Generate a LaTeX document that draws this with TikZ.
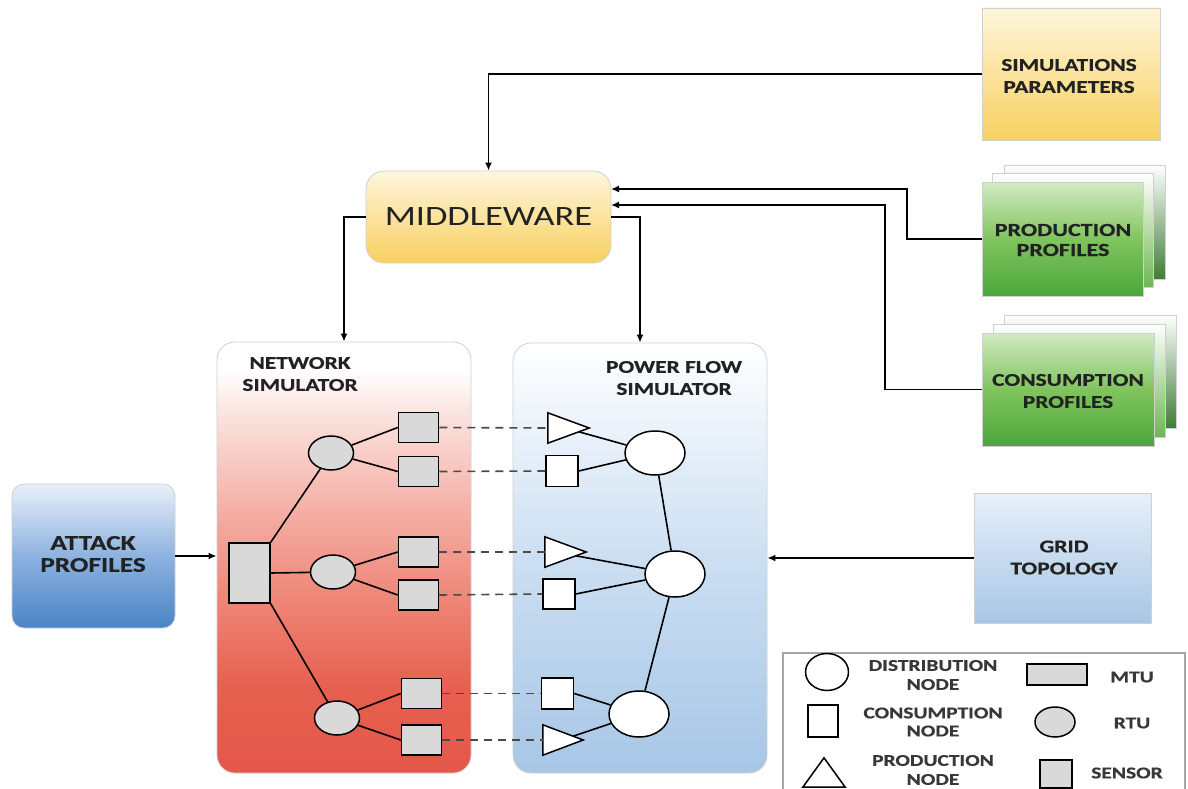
\documentclass[tikz,border=0pt]{standalone}
\usepackage{fontspec}
\setmainfont{Carlito}[FakeStretch=1.3, BoldFeatures={FakeBold=0.6}]
\usetikzlibrary{arrows.meta,shapes.geometric,calc}

\definecolor{txt}{HTML}{222222}
\definecolor{elgray}{HTML}{D9D9D9}
\definecolor{edge}{HTML}{D0D0D0}
\definecolor{netA}{HTML}{E4574A}
\definecolor{netB}{HTML}{E6604F}
\definecolor{netC}{HTML}{EE8576}
\definecolor{netD}{HTML}{F4ADA3}
\definecolor{netE}{HTML}{FADBD6}
\definecolor{pfbot}{HTML}{A7C6E6}
\definecolor{pfmid}{HTML}{CCDFF2}
\definecolor{ylwtop}{HTML}{FEF6DC}
\definecolor{ylwbot}{HTML}{F8D060}
\definecolor{grntop}{HTML}{D2EBC4}
\definecolor{grnmid}{HTML}{80C45E}
\definecolor{grnbot}{HTML}{4CA73B}
\definecolor{grnsheet}{HTML}{6DB653}
\definecolor{grndark}{HTML}{3E7E36}
\definecolor{atktop}{HTML}{E8F0F9}
\definecolor{atkmid}{HTML}{8DB2DF}
\definecolor{atkbot}{HTML}{4A84C6}
\definecolor{dash}{HTML}{4A4A4A}

% red fade of the network simulator panel (bottom at 25bp, top at 75bp)
\pgfdeclareverticalshading{netshade}{100bp}{color(0bp)=(netA); color(25bp)=(netA);
  color(35bp)=(netB); color(45bp)=(netC); color(55bp)=(netD); color(65bp)=(netE);
  color(72bp)=(white); color(100bp)=(white)}

\tikzset{
  lbl/.style={font=\bfseries\fontsize{18}{22}\selectfont, text=txt, align=center, inner sep=0},
  leg/.style={font=\bfseries\fontsize{16.5}{19}\selectfont, text=txt!90, align=center, inner sep=0},
  panel/.style={draw=edge, line width=0.8, rounded corners=18, inner sep=0},
  flat/.style={draw=edge, line width=0.8, inner sep=0},
  conn/.style={draw=black, line width=1.6},
  arr/.style={conn, -{Latex[length=8pt,width=7pt]}},
  dashedlink/.style={draw=dash, line width=1.6, dash pattern=on 8pt off 6pt},
  sensorbox/.style={draw=black, fill=elgray, line width=1.5, minimum width=40, minimum height=30, inner sep=0},
  rtu/.style={ellipse, draw=black, fill=elgray, line width=1.5, inner sep=0, minimum width=45, minimum height=34},
  mtu/.style={draw=black, fill=elgray, line width=1.5, inner sep=0},
  dist/.style={ellipse, draw=black, fill=white, line width=1.5, inner sep=0, minimum width=60, minimum height=45},
  cons/.style={draw=black, fill=white, line width=1.5, inner sep=0, minimum width=32, minimum height=31},
  prodslot/.style={inner sep=0, minimum width=41, minimum height=30},
  tri/.style={draw=black, fill=white, line width=1.5},
  sheet/.style={flat, top color=white, bottom color=#1},
}

\begin{document}
\begin{tikzpicture}[x=1pt,y=-1pt]
\useasboundingbox (0,0) rectangle (1188,789);
\fill[white] (0,0) rectangle (1188,789);

% ---------------- panels ----------------
\node[panel, shading=netshade, minimum width=254, minimum height=431] (net) at (344,557.5) {};
\node[panel, top color=white, bottom color=pfbot, middle color=pfmid, minimum width=254, minimum height=430] (pf) at (640,558) {};
\node[lbl] (nettitle) at (300,374) {NETWORK\\SIMULATOR};
\node[lbl] (pftitle) at (674,378) {POWER FLOW\\SIMULATOR};

\node[panel, top color=ylwtop, bottom color=ylwbot, minimum width=245, minimum height=92] (mw) at (488.5,217)
  {\fontsize{28}{30}\selectfont\color{txt}MIDDLEWARE};

\node[flat, top color=ylwtop, bottom color=ylwbot, minimum width=178, minimum height=132] (sim) at (1071,74) {};
\node[lbl] (simtxt) at (1069,76) {SIMULATIONS\\PARAMETERS};

% stacked profile sheets
\node[sheet=grndark, minimum width=161, minimum height=114] (prod3) at (1084.5,222) {};
\node[sheet=grnsheet, minimum width=161, minimum height=114] (prod2) at (1073,230.5) {};
\node[flat, top color=grntop, bottom color=grnbot, middle color=grnmid, minimum width=161, minimum height=114] (prod) at (1062.5,239) {};
\node[lbl, font=\bfseries\fontsize{18.5}{20}\selectfont] (prodtxt) at (1063,240) {PRODUCTION\\PROFILES};

\node[sheet=grndark, minimum width=172, minimum height=113] (cons3) at (1090,371.5) {};
\node[sheet=grnsheet, minimum width=172, minimum height=113] (cons2) at (1079,380.5) {};
\node[flat, top color=grntop, bottom color=grnbot, middle color=grnmid, minimum width=172, minimum height=113] (consp) at (1068,389.5) {};
\node[lbl] (constxt) at (1068,391) {CONSUMPTION\\PROFILES};

\node[draw=edge, line width=0.8, rounded corners=12, inner sep=0, top color=atktop, bottom color=atkbot, middle color=atkmid,
  minimum width=163, minimum height=144] (att) at (93.5,556) {};
\node[lbl, font=\bfseries\fontsize{21}{22}\selectfont] (atttxt) at (93,554) {ATTACK\\PROFILES};

\node[flat, top color=atktop, bottom color=pfbot, minimum width=177, minimum height=130] (grid) at (1062.5,558) {};
\node[lbl] (gridtxt) at (1064,557.5) {GRID\\TOPOLOGY};

% ---------------- network simulator ----------------
\node[mtu, minimum width=41, minimum height=60] (mtu) at (249.5,573) {};
\node[rtu] (r1) at (331,453) {};
\node[rtu] (r2) at (333,572) {};
\node[rtu] (r3) at (337,718) {};
\node[sensorbox] (s1) at (418.5,427.5) {};
\node[sensorbox] (s2) at (418.5,471.5) {};
\node[sensorbox] (s3) at (418.5,552) {};
\node[sensorbox] (s4) at (418.5,595) {};
\node[sensorbox] (s5) at (421.5,693.5) {};
\node[sensorbox] (s6) at (421.5,740) {};

\draw[conn] (mtu.north east) -- (r1);
\draw[conn] (mtu.east) -- (r2);
\draw[conn] (mtu.south east) -- (r3);
\draw[conn] (r1) -- (s1.west);
\draw[conn] (r1) -- (s2.west);
\draw[conn] (r2) -- (s3.west);
\draw[conn] (r2) -- (s4.west);
\draw[conn] (r3) -- (s5.west);
\draw[conn] (r3) -- (s6.west);

% ---------------- power flow simulator ----------------
\node[prodslot] (t1) at (568.5,428) {};
\node[prodslot] (t2) at (565.5,552) {};
\node[prodslot, minimum width=40] (t3) at (563,740) {};
\node[cons] (c1) at (562,471) {};
\node[cons, minimum height=30] (c2) at (559,594) {};
\node[cons] (c3) at (557.5,693.5) {};
\node[dist, minimum height=44] (d1) at (655,453) {};
\node[dist, minimum height=46] (d2) at (675,574) {};
\node[dist, minimum height=46] (d3) at (639,714) {};

\draw[conn] ($(t1.east)!0.25!(t1.south west)$) -- (d1);
\draw[conn] (c1.east) -- (d1);
\draw[conn] (d1) -- (d2);
\draw[conn] ($(t2.east)!0.25!(t2.south west)$) -- (d2);
\draw[conn] (c2.east) -- (d2);
\draw[conn] (d2) -- (d3);
\draw[conn] (c3.east) -- (d3);
\draw[conn] ($(t3.east)!0.25!(t3.north west)$) -- (d3);

\foreach \t in {t1,t2,t3}
  \draw[tri] (\t.north west) -- (\t.east) -- (\t.south west) -- cycle;

% sensor-to-grid links
\draw[dashedlink] (s1.east) -- (t1.west);
\draw[dashedlink] (s2.east) -- (c1.west);
\draw[dashedlink] (s3.east) -- (t2.west);
\draw[dashedlink] (s4.east) -- (c2.west);
\draw[dashedlink] (s5.east) -- (c3.west);
\draw[dashedlink] (s6.east) -- (t3.west);

% ---------------- data flow ----------------
\coordinate (mwin1) at (611,189);
\coordinate (mwin2) at (611,205);
\coordinate (k1) at (907,189);
\coordinate (k2) at (885,205);
\draw[arr] (sim.west) -| (mw.north);
\draw[arr] (mw.west) -| (net.north);
\draw[arr] (mw.east) -| (pf.north);
\draw[arr] (prod.west) -| (k1) -- (mwin1);
\draw[arr] (consp.west) -| (k2) -- (mwin2);
\draw[arr] (att.east) -- (att.east -| net.west);
\draw[arr] (grid.west) -- (grid.west -| pf.east);

% ---------------- legend ----------------
\draw[draw=gray!70, line width=1.4] (783,800) -- (783,653) -- (1185,653) -- (1185,800);
\node[dist, minimum width=43, minimum height=37] (ldist) at (827,672) {};
\node[leg] (ldisttxt) at (933,675) {DISTRIBUTION\\NODE};
\node[mtu, minimum width=60, minimum height=21] (lmtu) at (1057,674.5) {};
\node[leg] (lmtutxt) at (1132,677) {MTU};
\node[cons, minimum width=30, minimum height=32] (lcons) at (823,721) {};
\node[leg, font=\bfseries\fontsize{16.5}{18}\selectfont] (lconstxt) at (933,722) {CONSUMPTION\\NODE};
\node[rtu, minimum width=40, minimum height=30] (lrtu) at (1055,722) {};
\node[leg] (lrtutxt) at (1132,723) {RTU};
\node[inner sep=0, minimum width=42, minimum height=29] (lprod) at (824,772.5) {};
\draw[tri] (lprod.south west) -- (lprod.north) -- (lprod.south east) -- cycle;
\node[leg, font=\bfseries\fontsize{16.5}{19}\selectfont] (lprodtxt) at (933,770) {PRODUCTION\\NODE};
\node[mtu, minimum width=32, minimum height=28] (lsens) at (1056,774) {};
\node[leg] (lsenstxt) at (1127,773) {SENSOR};
\end{tikzpicture}
\end{document}
